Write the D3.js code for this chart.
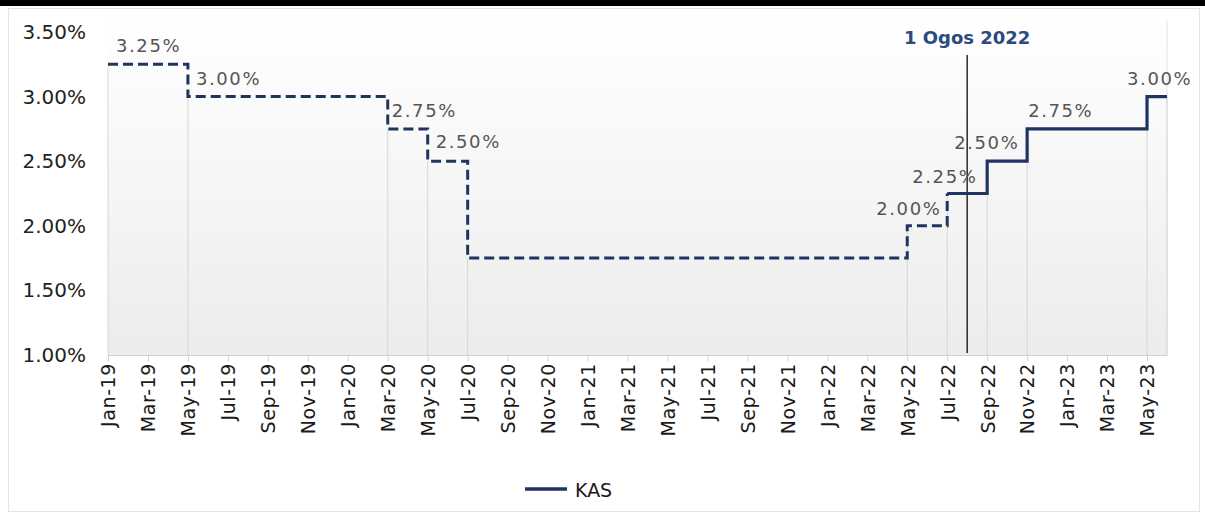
<!DOCTYPE html>
<html>
<head>
<meta charset="utf-8">
<script src="https://cdn.jsdelivr.net/npm/d3@7"></script>
<style>
  body { margin: 0; background: #fff; }
  svg { display: block; font-family: "DejaVu Sans", Verdana, sans-serif; }
</style>
</head>
<body>
<div id="chart"></div>
<script>
// OPR steps: dashed = history, solid = from 1 Ogos 2022
const pastMonths = ["2019-01", "2019-05", "2020-03", "2020-05", "2020-07", "2022-05", "2022-07"];
const pastRates  = [3.25, 3.00, 2.75, 2.50, 1.75, 2.00, 2.25];
const kasMonths  = ["2022-07", "2022-09", "2022-11", "2023-05", "2023-06"];
const kasRates   = [2.25, 2.50, 2.75, 3.00, 3.00];

const tickLabels = ["Jan-19", "Mar-19", "May-19", "Jul-19", "Sep-19", "Nov-19",
  "Jan-20", "Mar-20", "May-20", "Jul-20", "Sep-20", "Nov-20",
  "Jan-21", "Mar-21", "May-21", "Jul-21", "Sep-21", "Nov-21",
  "Jan-22", "Mar-22", "May-22", "Jul-22", "Sep-22", "Nov-22",
  "Jan-23", "Mar-23", "May-23"];
const yTicks = [1.00, 1.50, 2.00, 2.50, 3.00, 3.50];

const markerMonth = "2022-08";
const markerText = "1 Ogos 2022";
const legendName = "KAS";

// label placement relative to each step point [dx, dy]
const labelOffsets = [[8, -12], [8, -12], [4, -12], [8, -13], null, [-31, -11], [-35, -11]];
const kasLabelOffsets = [null, [-33, -12], [1, -12], [-20, -12], null];

const W = 1205, H = 515;
const navy = "#1f3560";

const monthIdx = s => { const [y, m] = s.split("-").map(Number); return (y - 2019) * 12 + m - 1; };

const x = d3.scaleLinear().domain([0, 53]).range([108, 1167]);
const y = d3.scaleLinear().domain([1, 3.5]).range([355, 32]);

const svg = d3.select("#chart").append("svg").attr("width", W).attr("height", H);

const defs = svg.append("defs");
const grad = defs.append("linearGradient").attr("id", "bg").attr("x1", 0).attr("y1", 0).attr("x2", 0).attr("y2", 1);
grad.append("stop").attr("offset", "0%").attr("stop-color", "#ffffff");
grad.append("stop").attr("offset", "100%").attr("stop-color", "#ececec");

// frame
svg.append("rect").attr("x", 0).attr("y", 0).attr("width", W).attr("height", 6).attr("fill", "#000");
svg.append("rect").attr("x", 8.5).attr("y", 8.5).attr("width", W - 14).attr("height", H - 12)
  .attr("fill", "#fff").attr("stroke", "#e4e4e4");

// plot background
svg.append("rect").attr("x", x(0)).attr("y", 20).attr("width", x(53) - x(0)).attr("height", y(1) - 20)
  .attr("fill", "url(#bg)");
svg.append("line").attr("x1", x(53)).attr("x2", x(53)).attr("y1", 20).attr("y2", y(1))
  .attr("stroke", "#e2e2e2");

const past = pastMonths.map((m, i) => ({ i: monthIdx(m), v: pastRates[i], off: labelOffsets[i] }));
const kas = kasMonths.map((m, i) => ({ i: monthIdx(m), v: kasRates[i], off: kasLabelOffsets[i] }));

// drop lines
const drops = past.concat(kas.slice(1));
svg.append("g").selectAll("line").data(drops).join("line")
  .attr("x1", d => x(d.i)).attr("x2", d => x(d.i))
  .attr("y1", d => y(d.v)).attr("y2", y(1))
  .attr("stroke", "#d6d6d6").attr("stroke-width", 1);

// x axis
const xAxis = svg.append("g").attr("transform", `translate(0,${y(1)})`)
  .call(d3.axisBottom(x).tickValues(d3.range(0, 53, 2)).tickFormat((d, i) => tickLabels[i]).tickSizeInner(6).tickSizeOuter(0));
xAxis.select(".domain").attr("stroke", "#d0d0d0");
xAxis.selectAll(".tick line").attr("stroke", "#d0d0d0");
xAxis.selectAll(".tick text")
  .attr("transform", "rotate(-90)")
  .attr("text-anchor", "end")
  .attr("x", -8).attr("y", 0).attr("dy", "0.36em")
  .attr("font-size", 19).attr("letter-spacing", 0.6).attr("fill", "#1a1a1a")
  .attr("font-family", "DejaVu Sans, sans-serif");

// y axis
const yAxis = svg.append("g").attr("transform", `translate(${x(0)},0)`)
  .call(d3.axisLeft(y).tickValues(yTicks).tickFormat(d => d.toFixed(2) + "%").tickSize(0).tickPadding(22));
yAxis.select(".domain").remove();
yAxis.selectAll(".tick text").attr("font-size", 20).attr("fill", "#222")
  .attr("font-family", "DejaVu Sans, sans-serif");

// marker line
svg.append("line").attr("x1", x(monthIdx(markerMonth))).attr("x2", x(monthIdx(markerMonth)))
  .attr("y1", 55).attr("y2", 353).attr("stroke", "#2a2a2a").attr("stroke-width", 1.5);
svg.append("text").attr("x", x(monthIdx(markerMonth))).attr("y", 44)
  .attr("text-anchor", "middle").attr("font-size", 18).attr("font-weight", "bold")
  .attr("fill", "#2c4a7c").text(markerText);

// lines
const step = d3.line().x(d => x(d.i)).y(d => y(d.v)).curve(d3.curveStepAfter);
svg.append("path").datum(past).attr("d", step).attr("fill", "none")
  .attr("stroke", navy).attr("stroke-width", 3).attr("stroke-dasharray", "10,5");
svg.append("path").datum(kas).attr("d", step).attr("fill", "none")
  .attr("stroke", navy).attr("stroke-width", 3.2);

// data labels
svg.append("g").selectAll("text").data(drops.filter(d => d.off)).join("text")
  .attr("x", d => x(d.i) + d.off[0]).attr("y", d => y(d.v) + d.off[1])
  .attr("font-size", 18).attr("letter-spacing", 1.6).attr("fill", "#555")
  .text(d => d.v.toFixed(2) + "%");

// legend
svg.append("line").attr("x1", 525).attr("x2", 567).attr("y1", 489).attr("y2", 489)
  .attr("stroke", navy).attr("stroke-width", 3.5);
svg.append("text").attr("x", 575).attr("y", 497).attr("font-size", 19).attr("fill", "#1a1a1a")
  .text(legendName);
</script>
</body>
</html>
